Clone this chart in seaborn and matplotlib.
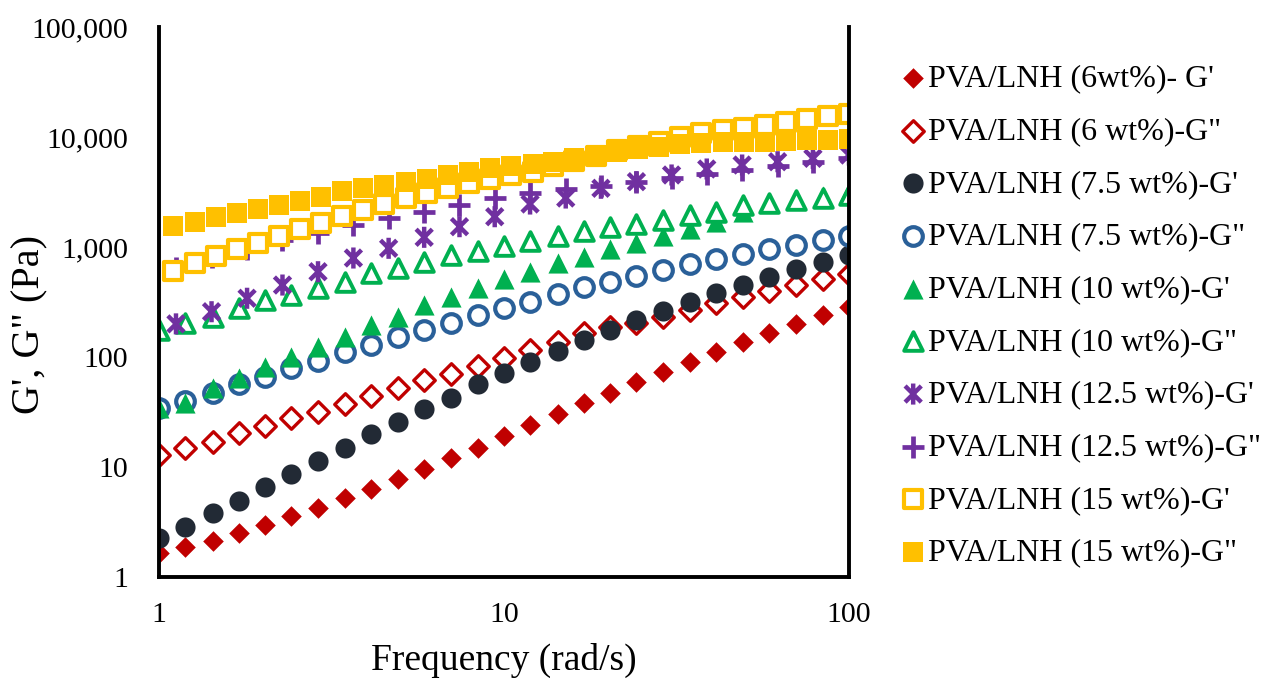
import matplotlib
matplotlib.use("Agg")
import matplotlib.pyplot as plt
import numpy as np
import seaborn as sns
from matplotlib.path import Path
from matplotlib.ticker import FuncFormatter, LogLocator, NullFormatter

# Frequency grids (rad/s)
freq_main = [1.00, 1.19, 1.43, 1.70, 2.03, 2.42, 2.89, 3.46, 4.12, 4.92, 5.88, 7.02, 8.38, 10.0,
             11.9, 14.3, 17.0, 20.3, 24.2, 28.9, 34.6, 41.2, 49.2, 58.8, 70.2, 83.8, 100]
freq_125 = [1.12, 1.42, 1.80, 2.28, 2.89, 3.66, 4.63, 5.87, 7.43, 9.40,
            11.9, 15.1, 19.1, 24.2, 30.6, 38.7, 49.0, 62.1, 78.6, 100]
freq_15 = [1.10, 1.27, 1.46, 1.68, 1.93, 2.23, 2.56, 2.95, 3.40, 3.91, 4.50, 5.19, 5.97, 6.88,
           7.91, 9.12, 10.5, 12.1, 13.9, 16.0, 18.5, 21.2, 24.5, 28.2, 32.4, 37.3, 43.0, 49.5,
           57.0, 65.6, 75.5, 87.0, 100]

# Moduli (Pa)
g1_6 = [1.64, 1.88, 2.14, 2.53, 2.97, 3.59, 4.27, 5.19, 6.31, 7.78, 9.59, 12.0, 15.0, 19.0,
        23.9, 30.1, 37.9, 47.4, 58.9, 73.5, 90, 112, 136, 166, 200, 239, 286]
g2_6 = [12.9, 14.8, 17.0, 20.2, 23.6, 27.7, 31.8, 37.2, 44.5, 51.9, 61.4, 70.5, 83.4, 97,
        116, 138, 164, 189, 202, 232, 267, 308, 353, 401, 452, 509, 564]
g1_75 = [2.28, 2.86, 3.79, 4.94, 6.54, 8.64, 11.3, 15.0, 19.8, 25.8, 33.7, 42, 56.5, 72,
         90.6, 114, 143, 176, 217, 262, 314, 379, 452, 537, 631, 735, 846]
g2_75 = [34.2, 40, 46.8, 56.5, 66.2, 78.9, 92, 110, 129, 153, 176, 205, 241, 277,
         318, 372, 430, 484, 545, 618, 697, 773, 859, 953, 1042, 1158, 1259]
g1_10 = [34.2, 38, 52, 64, 81.7, 101, 124, 153, 195, 233, 297, 353, 421, 510,
         596, 711, 817, 953, 1080, 1259, 1449, 1700, 2094, 2495, 2710, 2911, 3184]
g2_10 = [176, 202, 232, 277, 330, 366, 422, 484, 576, 640, 736, 846, 926, 1020,
         1141, 1259, 1397, 1510, 1618, 1760, 1955, 2094, 2410, 2500, 2650, 2800, 3000]
g1_125 = [200, 258, 342, 451, 596, 794, 973, 1225, 1530, 1885,
          2459, 2788, 3418, 3926, 4515, 5117, 5563, 5960, 6395, 6855]
g2_125 = [640, 817, 953, 1158, 1333, 1585, 1824, 2094, 2410, 2773,
          3097, 3367, 3586, 3899, 4240, 4608, 5012, 5449, 5926, 6442]
g1_15 = [609, 711, 828, 953, 1094, 1259, 1449, 1663, 1914, 2168, 2459, 2773, 3076, 3418,
         3793, 4124, 4515, 4838, 5449, 6050, 6714, 7621, 8279, 9099, 10000, 10765, 11580,
         12200, 12850, 13770, 14490, 15420, 16290]
g2_15 = [1552, 1698, 1874, 2046, 2224, 2428, 2618, 2848, 3197, 3438, 3661, 3926, 4180, 4515,
         4838, 5194, 5449, 5741, 5960, 6395, 6855, 7345, 7727, 8161, 8551, 8770, 8913, 8913,
         9016, 9108, 9333, 9397, 9532]

labels = ["PVA/LNH (6wt%)- G'", "PVA/LNH (6 wt%)-G\"", "PVA/LNH (7.5 wt%)-G'",
          "PVA/LNH (7.5 wt%)-G\"", "PVA/LNH (10 wt%)-G'", "PVA/LNH (10 wt%)-G\"",
          "PVA/LNH (12.5 wt%)-G'", "PVA/LNH (12.5 wt%)-G\"", "PVA/LNH (15 wt%)-G'",
          "PVA/LNH (15 wt%)-G\""]

red, navy, blue, green, purple, gold = "#c00000", "#222a35", "#2a6099", "#00b050", "#7030a0", "#ffc000"

# asterisk like Excel's star marker: an x with a vertical bar
star = Path([(-1, -1), (1, 1), (-1, 1), (1, -1), (0, -1.3), (0, 1.3)],
            [Path.MOVETO, Path.LINETO, Path.MOVETO, Path.LINETO, Path.MOVETO, Path.LINETO])

series = [
    (freq_main, g1_6, dict(marker="D", s=110, color=red, edgecolor=red, linewidth=0)),
    (freq_main, g2_6, dict(marker="D", s=120, facecolor="white", edgecolor=red, linewidth=2.4)),
    (freq_main, g1_75, dict(marker="o", s=210, color=navy, edgecolor=navy, linewidth=0)),
    (freq_main, g2_75, dict(marker="o", s=180, facecolor="white", edgecolor=blue, linewidth=3)),
    (freq_main, g1_10, dict(marker="^", s=210, color=green, edgecolor=green, linewidth=0)),
    (freq_main, g2_10, dict(marker="^", s=180, facecolor="white", edgecolor=green, linewidth=2.8)),
    (freq_125, g1_125, dict(marker=star, s=230, facecolor="none", edgecolor=purple, linewidth=3.2)),
    (freq_125, g2_125, dict(marker="+", s=230, color=purple, linewidth=3.4)),
    (freq_15, g1_15, dict(marker="s", s=180, facecolor="white", edgecolor=gold, linewidth=3)),
    (freq_15, g2_15, dict(marker="s", s=215, color=gold, edgecolor=gold, linewidth=0)),
]

sns.set_style("white")
plt.rcParams["font.family"] = ["Liberation Serif", "DejaVu Serif"]

fig = plt.figure(figsize=(12.65, 6.82), dpi=100)
ax = fig.add_axes([159 / 1265, 1 - 577 / 682, (849 - 159) / 1265, (577 - 27) / 682])

for (x, y, kw), lab in zip(series, labels):
    sns.scatterplot(x=x, y=y, ax=ax, label=lab, **kw)

ax.set_xscale("log")
ax.set_yscale("log")
ax.set_xlim(1, 100)
ax.set_ylim(1, 100000)

ax.yaxis.set_major_formatter(FuncFormatter(lambda v, p: f"{v:,.0f}"))
ax.xaxis.set_major_formatter(FuncFormatter(lambda v, p: f"{v:,.0f}"))
ax.xaxis.set_minor_locator(LogLocator(base=10, subs=np.arange(2, 10)))
ax.yaxis.set_minor_locator(LogLocator(base=10, subs=np.arange(2, 10)))
ax.xaxis.set_minor_formatter(NullFormatter())
ax.yaxis.set_minor_formatter(NullFormatter())

ax.tick_params(axis="both", which="major", direction="in", length=9, width=1.5,
               labelsize=21.5, color="black", labelcolor="black")
ax.tick_params(axis="both", which="minor", direction="in", length=5, width=1.5, color="black")
ax.tick_params(axis="y", which="both", right=False, pad=22)
ax.tick_params(axis="x", which="both", top=False, pad=18)

for side in ["left", "bottom", "right"]:
    ax.spines[side].set_visible(True)
    ax.spines[side].set_color("black")
    ax.spines[side].set_linewidth(2.8)
ax.spines["top"].set_visible(False)

ax.set_xlabel("Frequency (rad/s)", fontsize=27, color="black")
ax.set_ylabel("G', G\" (Pa)", fontsize=29, color="black")
ax.xaxis.set_label_coords(0.5, -0.12)
ax.yaxis.set_label_coords(-0.16, 0.46)

leg = ax.legend(loc="upper left", bbox_to_anchor=(902 / 1265, 1 - 64 / 682),
                bbox_transform=fig.transFigure, frameon=False, fontsize=23,
                handlelength=0.7, handletextpad=0.1, labelspacing=0.73,
                borderpad=0, borderaxespad=0)
for t in leg.get_texts():
    t.set_color("black")

fig.savefig("out.png", dpi=100)
